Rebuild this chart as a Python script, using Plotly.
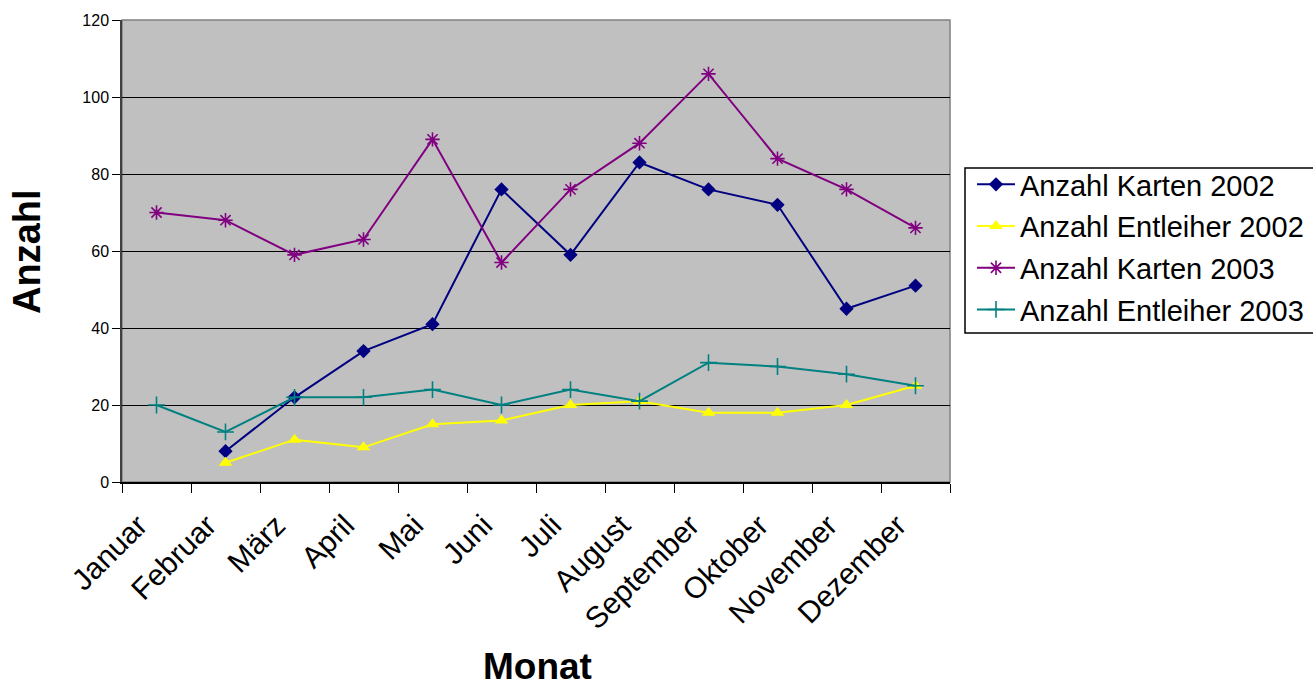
import plotly.graph_objects as go

months = ["Januar", "Februar", "März", "April", "Mai", "Juni", "Juli",
          "August", "September", "Oktober", "November", "Dezember"]
karten_2002 = [None, 8, 22, 34, 41, 76, 59, 83, 76, 72, 45, 51]
entleiher_2002 = [None, 5, 11, 9, 15, 16, 20, 21, 18, 18, 20, 25]
karten_2003 = [70, 68, 59, 63, 89, 57, 76, 88, 106, 84, 76, 66]
entleiher_2003 = [20, 13, 22, 22, 24, 20, 24, 21, 31, 30, 28, 25]

FONT = "Arial, Liberation Sans, sans-serif"

series = [
    ("Anzahl Karten 2002", karten_2002, "#000080", "diamond", 11, None),
    ("Anzahl Entleiher 2002", entleiher_2002, "#FFFF00", "triangle-up", 12, None),
    ("Anzahl Karten 2003", karten_2003, "#800080", "asterisk-open", 12, 1.6),
    ("Anzahl Entleiher 2003", entleiher_2003, "#008080", "cross-thin-open", 12, 1.6),
]

fig = go.Figure()
for i, (name, vals, color, sym, size, lw) in enumerate(series):
    marker = dict(symbol=sym, size=size, color=color)
    if lw:
        marker["line"] = dict(color=color, width=lw)
    fig.add_trace(go.Scatter(
        x=months, y=vals, name=name, mode="lines+markers",
        line=dict(color=color, width=2), marker=marker,
        connectgaps=False, legendgroup=f"g{i}",
    ))

# plot area in pixels: x 122..950, y 20..482
def px_x(p):
    return (p - 122) / 828

def px_y(p):
    return (482 - p) / 462

fig.update_layout(
    width=1313, height=688,
    margin=dict(l=122, r=363, t=20, b=206, autoexpand=False),
    paper_bgcolor="white", plot_bgcolor="#C0C0C0",
    font=dict(family=FONT, color="black"),
    showlegend=True,
    legend=dict(
        x=px_x(972), y=px_y(159), xanchor="left", yanchor="top",
        font=dict(size=29, family=FONT, color="black"),
        borderwidth=0, bgcolor="rgba(0,0,0,0)",
        traceorder="grouped", tracegroupgap=1, itemwidth=38,
    ),
    xaxis=dict(
        type="category", tickangle=-45, tickfont=dict(size=30, family=FONT),
        showgrid=False, ticks="outside", ticklen=9, tickcolor="black",
        tickson="boundaries", showline=True, linecolor="black", linewidth=1.5,
        range=[-0.5, 11.5], ticklabelshift=-18, ticklabelstandoff=12,
        automargin=False,
    ),
    yaxis=dict(
        range=[0, 120], dtick=20, tickfont=dict(size=16, family=FONT),
        showgrid=True, gridcolor="black", gridwidth=1,
        ticks="outside", ticklen=8, tickcolor="black",
        showline=True, linecolor="#404040", linewidth=1.5, zeroline=False,
        automargin=False,
    ),
    shapes=[
        dict(type="rect", xref="paper", yref="paper", x0=0, x1=1, y0=0, y1=1,
             line=dict(color="#808080", width=1.5), layer="below"),
        dict(type="rect", xref="paper", yref="paper",
             x0=px_x(965), x1=px_x(1330), y0=px_y(333), y1=px_y(168),
             line=dict(color="black", width=1.5), fillcolor="white", layer="below"),
    ],
    annotations=[
        dict(text="<b>Anzahl</b>", xref="paper", yref="paper", x=px_x(27), y=px_y(252),
             xanchor="center", yanchor="middle", textangle=-90, showarrow=False,
             font=dict(size=38, family=FONT)),
        dict(text="<b>Monat</b>", xref="paper", yref="paper", x=px_x(537), y=px_y(666),
             xanchor="center", yanchor="middle", showarrow=False,
             font=dict(size=37, family=FONT)),
    ],
)

fig.write_html("out.html")
